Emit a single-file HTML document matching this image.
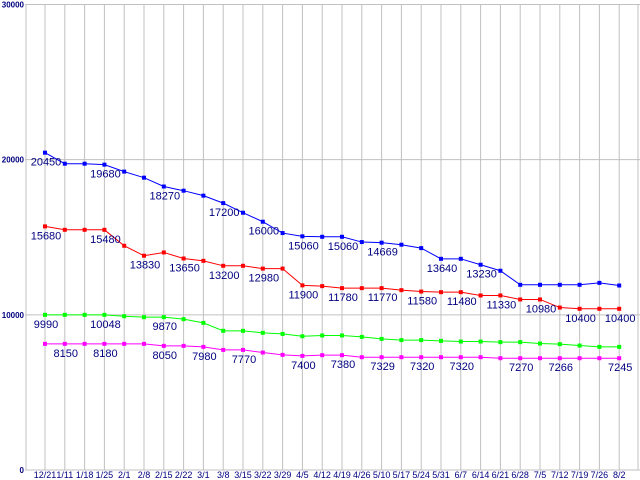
<!DOCTYPE html>
<html><head><meta charset="utf-8"><style>
html,body{margin:0;padding:0;background:#fff;width:640px;height:480px;overflow:hidden}
svg{display:block}
text{font-family:"Liberation Sans","DejaVu Sans",sans-serif}
</style></head><body>
<svg id="chart" width="640" height="480" viewBox="0 0 640 480" xmlns="http://www.w3.org/2000/svg">
<g id="grid"></g>
<g id="yaxis"></g>
<g id="xaxis"></g>
<g id="series"></g>
</svg>
<script>
const categories = ["12/21","1/11","1/18","1/25","2/1","2/8","2/15","2/22","3/1","3/8","3/15","3/22","3/29","4/5","4/12","4/19","4/26","5/10","5/17","5/24","5/31","6/7","6/14","6/21","6/28","7/5","7/12","7/19","7/26","8/2"];
const yTicks = [0,10000,20000,30000];
const blueValues = [20450,19740,19740,19680,19230,18840,18270,18000,17680,17200,16580,16000,15270,15060,15030,15030,14690,14650,14520,14300,13610,13610,13230,12840,11935,11935,11935,11935,12060,11890];
const redValues = [15700,15480,15480,15480,14450,13810,14020,13630,13480,13160,13160,12980,12980,11900,11850,11720,11720,11720,11590,11500,11460,11460,11250,11250,10990,10990,10470,10390,10390,10390];
const greenValues = [10000,10000,10000,10000,9910,9850,9850,9720,9480,8970,8970,8840,8770,8620,8670,8670,8580,8450,8370,8370,8320,8280,8280,8240,8240,8150,8110,8020,7935,7935];
const magentaValues = [8130,8130,8130,8130,8130,8130,8000,8000,7935,7740,7740,7570,7420,7355,7400,7400,7270,7270,7270,7270,7270,7270,7270,7205,7205,7205,7205,7205,7205,7205];
const blueLabelIdx = [0,3,6,9,11,13,15,17,20,22];
const blueLabels = ["20450","19680","18270","17200","16000","15060","15060","14669","13640","13230"];
const redLabelIdx = [0,3,5,7,9,11,13,15,17,19,21,23,25,27,29];
const redLabels = ["15680","15480","13830","13650","13200","12980","11900","11780","11770","11580","11480","11330","10980","10400","10400"];
const greenLabelIdx = [0,3,6];
const greenLabels = ["9990","10048","9870"];
const magentaLabelIdx = [1,3,6,8,10,13,15,17,19,21,24,26,29];
const magentaLabels = ["8150","8180","8050","7980","7770","7400","7380","7329","7320","7320","7270","7266","7245"];

const NS="http://www.w3.org/2000/svg";
const X0=45, DX=19.8, Y0=470, YMAX=30000, YTOP=4.5;
const xs = i => X0 + DX*i;
const ys = v => Y0 - (Y0-YTOP)*v/YMAX;
function mk(tag, attrs, parent){const e=document.createElementNS(NS,tag);for(const k in attrs)e.setAttribute(k,attrs[k]);parent.appendChild(e);return e;}
const grid=document.getElementById('grid'), yax=document.getElementById('yaxis'), xax=document.getElementById('xaxis'), ser=document.getElementById('series');

// vertical grid lines
let vl=mk('line',{x1:26,x2:26,y1:YTOP,y2:Y0,stroke:'#c0c0c0'},grid);


categories.forEach((c,i)=>{
  const l=mk('line',{x1:xs(i),x2:xs(i),y1:YTOP,y2:Y0,stroke:'#c0c0c0'},grid);
  
  
  const t=mk('text',{x:xs(i),y:478,'font-size':9,fill:'#000080','text-anchor':'middle'},xax);
  t.textContent=c;
  
  
});
let rl=mk('line',{x1:638,x2:638,y1:YTOP,y2:Y0,stroke:'#c0c0c0'},grid);


yTicks.forEach(v=>{
  const l=mk('line',{x1:25,x2:640,y1:ys(v),y2:ys(v),stroke:'#c0c0c0'},grid);
  
  
  const t=mk('text',{x:24,y:ys(v)+3,'font-size':8,'font-weight':'bold',fill:'#000080','text-anchor':'end'},yax);
  t.textContent=String(v);
  
  
});

function drawSeries(name,vals,color,lblIdx,lbls){
  const g=mk('g',{},ser);
  
  
  const p=mk('polyline',{points:vals.map((v,i)=>xs(i)+','+ys(v)).join(' '),fill:'none',stroke:color,'stroke-width':1},g);
  
  
  vals.forEach((v,i)=>{
    const r=mk('rect',{x:xs(i)-2,y:ys(v)-2,width:4,height:4,fill:color},g);
    
    
  });
  lblIdx.forEach((i,k)=>{
    const t=mk('text',{x:xs(i)+1,y:ys(vals[i])+13,'font-size':11,fill:'#000080','text-anchor':'middle'},g);
    t.textContent=lbls[k];
    
    
  });
}
drawSeries('blue',blueValues,'#0000ff',blueLabelIdx,blueLabels);
drawSeries('red',redValues,'#ff0000',redLabelIdx,redLabels);
drawSeries('green',greenValues,'#00ff00',greenLabelIdx,greenLabels);
drawSeries('magenta',magentaValues,'#ff00ff',magentaLabelIdx,magentaLabels);
</script>
</body></html>
